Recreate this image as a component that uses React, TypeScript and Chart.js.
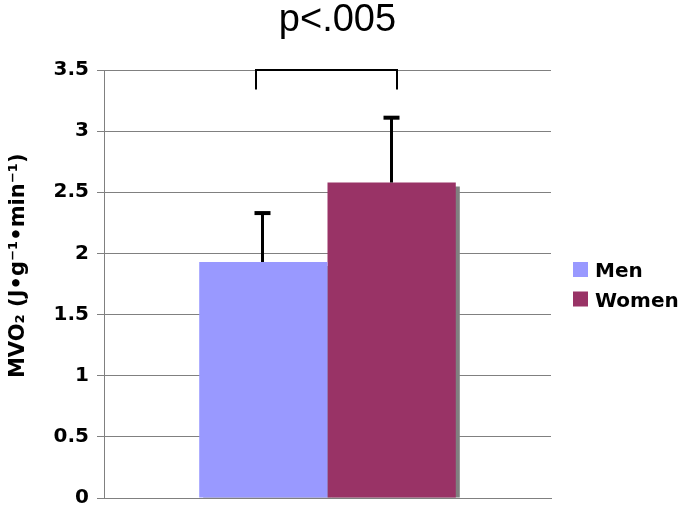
import React, { useEffect, useRef } from "react";
import { Chart, registerables } from "chart.js";

Chart.register(...registerables);

const categories = [""];
const seriesLabels = ["Men", "Women"];
const menValues = [1.93];
const womenValues = [2.58];
const menErrors = [0.4];
const womenErrors = [0.53];
const seriesColors = ["#9999FF", "#993366"];
const yTicks = [0, 0.5, 1, 1.5, 2, 2.5, 3, 3.5];
const yTickLabels = ["0", "0.5", "1", "1.5", "2", "2.5", "3", "3.5"];
const titleText = "p<.005";
const yAxisTitle = "     MVO₂ (J•g⁻¹•min⁻¹)";
const bracketTop = [3.5];
const bracketBottom = [3.34];

const errorsBySeries = [menErrors, womenErrors];

const shadowPlugin = {
  id: "barShadow",
  beforeDatasetsDraw(chart: any) {
    const ctx = chart.ctx;
    const area = chart.chartArea;
    ctx.save();
    ctx.beginPath();
    ctx.rect(area.left, area.top, area.right - area.left + 10, area.bottom - area.top);
    ctx.clip();
    ctx.fillStyle = "#808080";
    chart.data.datasets.forEach((_: any, i: number) => {
      const meta = chart.getDatasetMeta(i);
      meta.data.forEach((el: any) => {
        const { x, y, base, width } = el.getProps(["x", "y", "base", "width"], true);
        ctx.fillRect(x - width / 2 + 4, y + 4, width, base - y - 4);
      });
    });
    ctx.restore();
  },
};

const errorPlugin = {
  id: "errorBars",
  afterDatasetsDraw(chart: any) {
    const ctx = chart.ctx;
    const yScale = chart.scales.y;
    ctx.save();
    ctx.strokeStyle = "#000";
    ctx.lineCap = "butt";
    chart.data.datasets.forEach((ds: any, i: number) => {
      const meta = chart.getDatasetMeta(i);
      meta.data.forEach((el: any, j: number) => {
        const v = ds.data[j];
        const e = errorsBySeries[i][j];
        const yTop = yScale.getPixelForValue(v + e);
        const x = Math.round(el.x) - 0.5;
        ctx.lineWidth = 3;
        ctx.beginPath();
        ctx.moveTo(x, el.y);
        ctx.lineTo(x, yTop);
        ctx.stroke();
        ctx.lineWidth = 4;
        ctx.beginPath();
        ctx.moveTo(x - 8, yTop);
        ctx.lineTo(x + 8, yTop);
        ctx.stroke();
      });
    });
    const m0 = chart.getDatasetMeta(0).data[0];
    const m1 = chart.getDatasetMeta(1).data[0];
    if (m0 && m1) {
      const w = m0.width;
      const x0 = Math.round(m0.x - w * 0.055);
      const x1 = Math.round(m1.x + w * 0.04);
      const yT = Math.round(yScale.getPixelForValue(bracketTop[0]));
      const yB = yScale.getPixelForValue(bracketBottom[0]);
      ctx.lineWidth = 2;
      ctx.beginPath();
      ctx.moveTo(x0, yB);
      ctx.lineTo(x0, yT);
      ctx.lineTo(x1, yT);
      ctx.lineTo(x1, yB);
      ctx.stroke();
    }
    ctx.restore();
  },
};

const legendPlugin = {
  id: "sideLegend",
  afterDraw(chart: any) {
    const ctx = chart.ctx;
    const area = chart.chartArea;
    ctx.save();
    ctx.font = "bold 20px 'DejaVu Sans'";
    ctx.textBaseline = "alphabetic";
    ctx.textAlign = "left";
    const x = area.right + 22;
    const baseY = 277;
    chart.data.datasets.forEach((ds: any, i: number) => {
      const y = baseY + i * 29.5;
      ctx.fillStyle = ds.backgroundColor;
      ctx.fillRect(x, y - 15, 15, 15);
      ctx.fillStyle = "#000";
      ctx.fillText(ds.label, x + 22, y);
    });
    ctx.restore();
  },
};

export default function App() {
  const ref = useRef<HTMLCanvasElement | null>(null);
  useEffect(() => {
    if (!ref.current) return;
    const chart = new Chart(ref.current, {
      type: "bar",
      data: {
        labels: categories,
        datasets: [
          { label: seriesLabels[0], data: menValues, backgroundColor: seriesColors[0], borderWidth: 0 },
          { label: seriesLabels[1], data: womenValues, backgroundColor: seriesColors[1], borderWidth: 0 },
        ],
      },
      options: {
        responsive: false,
        animation: false,
        devicePixelRatio: 1,
        layout: { padding: { left: 0, right: 8, top: 0, bottom: 0 } },
        datasets: { bar: { categoryPercentage: 0.574, barPercentage: 1 } },
        plugins: {
          legend: { display: false },
          tooltip: { enabled: false },
          title: {
            display: true,
            text: titleText,
            color: "#000",
            font: { family: "'Liberation Sans', Arial, sans-serif", size: 38, weight: "normal", lineHeight: 1 },
            padding: { top: 2, bottom: 30 },
          },
        },
        scales: {
          x: {
            type: "category",
            grid: { display: false },
            border: { display: true, color: "#808080", width: 1 },
            ticks: { display: false },
          },
          y: {
            min: 0,
            max: 3.5,
            afterBuildTicks: (s: any) => {
              s.ticks = yTicks.map((v) => ({ value: v }));
            },
            afterFit: (s: any) => {
              s.width = 104;
              s.paddingBottom = 10;
              s.paddingTop = 0;
            },
            grid: { color: "#808080", lineWidth: 1, tickLength: 7, drawTicks: true },
            border: { display: true, color: "#808080", width: 1 },
            ticks: {
              color: "#000",
              padding: 8,
              font: { family: "'DejaVu Sans'", size: 20, weight: "bold" },
              callback: (_v: any, i: number) => yTickLabels[i],
            },
            title: {
              display: true,
              text: yAxisTitle,
              color: "#000",
              padding: { top: 6, bottom: 0 },
              font: { family: "'DejaVu Sans'", size: 21, weight: "bold" },
            },
          },
          legendSpace: {
            type: "linear",
            position: "right",
            display: true,
            afterFit: (s: any) => {
              s.width = 124;
              s.paddingBottom = 0;
              s.paddingTop = 0;
            },
            grid: { display: false, drawTicks: false },
            border: { display: false },
            ticks: { display: false },
          },
        },
      },
      plugins: [shadowPlugin, errorPlugin, legendPlugin],
    } as any);
    return () => chart.destroy();
  }, []);
  return (
    <div style={{ position: "absolute", left: 0, top: 0, width: 683, height: 508 }}>
      <canvas ref={ref} width={683} height={508} />
    </div>
  );
}
